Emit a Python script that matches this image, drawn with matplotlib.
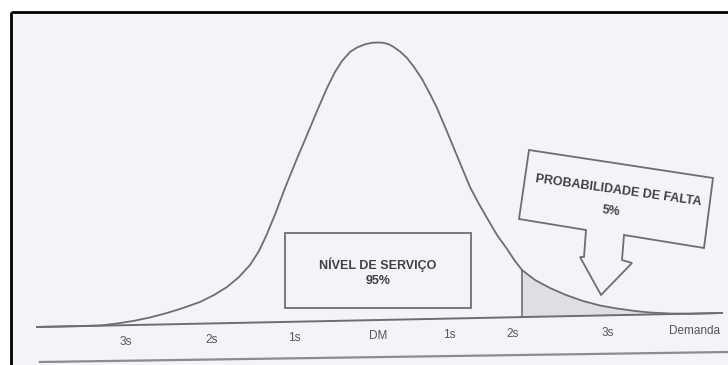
import numpy as np
import matplotlib
matplotlib.use('Agg')
import matplotlib.pyplot as plt
from matplotlib.patches import Rectangle, Polygon

plt.rcParams['font.family'] = ['Liberation Sans Narrow', 'Liberation Sans', 'DejaVu Sans']

# Traced shape of the demand curve (picture units, y grows downwards)
curve_x = [37, 60, 80, 100, 117, 133, 150, 167, 183, 200, 214, 227, 239, 250, 259,
           267, 276, 285, 296, 307, 317, 327, 335, 342, 350, 357, 365, 372, 378,
           383, 388, 393, 400, 407, 414, 422, 430, 437, 448, 460, 470, 479, 487,
           497, 507, 515, 522, 535, 550, 566, 583, 600, 617, 635, 650, 670, 690, 722]
curve_y = [327, 326.5, 326, 325.5, 323.5, 321, 317.5, 313, 308, 302, 295, 287, 277, 265, 251,
           234, 212, 188, 161, 135, 111, 88, 72, 61, 52, 47.5, 44.3, 42.8, 42.5,
           42.8, 44, 46.5, 51.5, 58, 67, 79, 94, 108, 134, 163, 187, 204, 218,
           235, 249, 261, 270, 280, 288, 295, 301, 305.5, 308.5, 311, 312.5, 313.5, 313.8, 313]

# baseline of the demand axis (slightly tilted in the scan)
base_x = [37, 722]
base_y = [327, 313]

# tick labels along the demand axis
tick_labels = ['3s', '2s', '1s', 'DM', '1s', '2s', '3s', 'Demanda']
tick_x = [126, 212, 294, 378, 449, 513, 608, 695]
tick_y = [342, 340, 338, 336, 335, 334, 333, 331]

# stock-out area starts here
shade_start = 522

nivel_text = 'NÍVEL DE SERVIÇO\n95%'
falta_title = 'PROBABILIDADE DE FALTA'
falta_value = '5%'

# call-out with arrow (drawn outline)
falta_x = [529, 713, 704, 624, 622, 632, 601, 580, 584, 586, 519]
falta_y = [150, 178, 248, 235, 260, 263, 295, 257, 257, 230, 219]

fig = plt.figure(figsize=(7.28, 3.65), dpi=100)
ax = fig.add_axes([0, 0, 1, 1])
ax.set_xlim(0, 728)
ax.set_ylim(365, 0)
ax.axis('off')
fig.patch.set_facecolor('white')

bg = '#f3f4f8'
line_c = '#6e6e70'

ax.add_patch(Rectangle((11, 12), 717, 353, facecolor=bg, edgecolor='none', zorder=0))
# frame of the scan
ax.plot([11, 728], [12, 12], color='black', lw=2.0, zorder=5, solid_capstyle='butt')
ax.plot([11, 11], [12, 365], color='black', lw=2.0, zorder=5, solid_capstyle='butt')
# bottom rule
ax.plot([40, 728], [362, 352], color='#8c8c90', lw=1.6, zorder=1)

# shaded stock-out area
cx = np.array(curve_x, dtype=float)
cy = np.array(curve_y, dtype=float)
m = cx >= shade_start
sx = cx[m]
sy = cy[m]
by = np.interp(sx, base_x, base_y)
ax.fill_between(sx, sy, by, color='#dedfe3', lw=0, zorder=1)
ax.plot([shade_start, shade_start], [np.interp(shade_start, base_x, base_y), sy[0]],
        color=line_c, lw=1.2, zorder=2)

# curve and baseline
ax.plot(base_x, base_y, color=line_c, lw=1.4, zorder=2)
ax.plot(curve_x, curve_y, color=line_c, lw=1.3, zorder=3, solid_joinstyle='round')

for lab, x, y in zip(tick_labels, tick_x, tick_y):
    ax.text(x, y, lab, ha='center', va='center', fontsize=8.5, color='#555555', zorder=4)

# service level box
ax.add_patch(Rectangle((285, 233), 186, 75, facecolor='none', edgecolor=line_c,
                       lw=1.3, zorder=3))
ax.text(378, 272, nivel_text, ha='center', va='center', fontsize=9, color='#404040',
        fontweight='bold', linespacing=1.3, zorder=4)

# stock-out call-out
ax.add_patch(Polygon(list(zip(falta_x, falta_y)), closed=True, facecolor=bg,
                     edgecolor=line_c, lw=1.3, zorder=3))
ax.text(618, 191, falta_title, ha='center', va='center', fontsize=9, color='#404040',
        fontweight='bold', rotation=-8, zorder=4)
ax.text(611, 211, falta_value, ha='center', va='center', fontsize=9, color='#404040',
        fontweight='bold', rotation=-8, zorder=4)

fig.savefig('out.png', dpi=100, facecolor='white')
